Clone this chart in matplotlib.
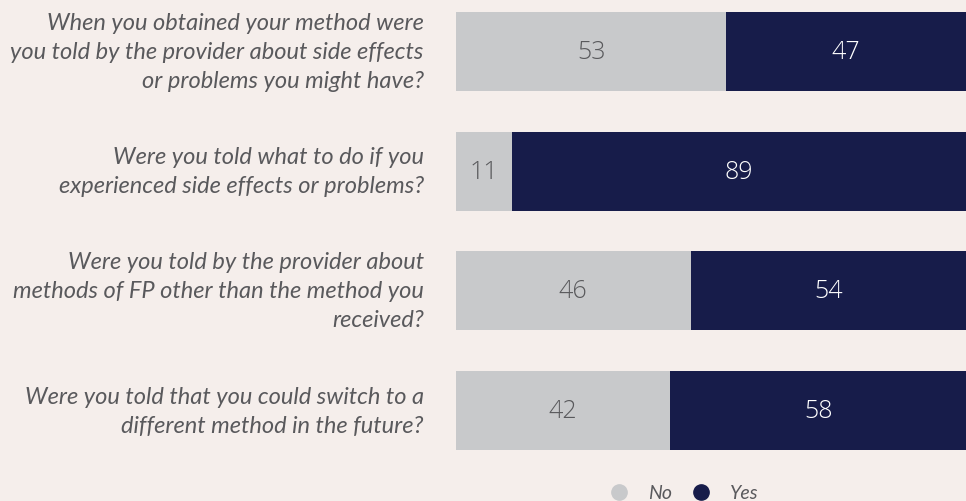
import matplotlib.pyplot as plt
from matplotlib.lines import Line2D

questions = [
    "When you obtained your method were\nyou told by the provider about side effects\nor problems you might have?",
    "Were you told what to do if you\nexperienced side effects or problems?",
    "Were you told by the provider about\nmethods of FP other than the method you\nreceived?",
    "Were you told that you could switch to a\ndifferent method in the future?",
]
no_vals = [53, 11, 46, 42]
yes_vals = [47, 89, 54, 58]

bg = '#f5eeeb'
grey = '#c8c9cb'
navy = '#171c4a'
txt = '#59595c'

fig = plt.figure(figsize=(9.66, 5.02), dpi=100, facecolor=bg)
ax = fig.add_axes([456 / 966, 51 / 502, 510 / 966, 438 / 502])
ax.set_facecolor(bg)

y = list(range(len(questions)))
ax.barh(y, no_vals, height=0.66, color=grey)
ax.barh(y, yes_vals, left=no_vals, height=0.66, color=navy)

for i in y:
    ax.text(no_vals[i] / 2, i, str(no_vals[i]), ha='center', va='center',
            fontsize=18, color=txt, family='Open Sans', fontweight='light')
    ax.text(no_vals[i] + yes_vals[i] / 2, i, str(yes_vals[i]), ha='center', va='center',
            fontsize=18, color='white', family='Open Sans', fontweight='light')
    ax.text(-6.3, i, questions[i], ha='right', va='center',
            fontsize=17, color=txt, family='Lato', style='italic',
            linespacing=1.47)

ax.set_xlim(0, 100)
ax.set_ylim(3.33, -0.33)
ax.axis('off')

handles = [
    Line2D([], [], marker='o', ls='', color=grey, markersize=11),
    Line2D([], [], marker='o', ls='', color=navy, markersize=11),
]
fig.legend(handles, ['No', 'Yes'], loc='center', bbox_to_anchor=(679 / 966, 1 - 494 / 502),
           ncol=2, frameon=False, handletextpad=0.5, columnspacing=0.5,
           prop={'family': 'Lato', 'style': 'italic', 'size': 14}, labelcolor=txt)

fig.savefig('out.png', dpi=100, facecolor=bg)
